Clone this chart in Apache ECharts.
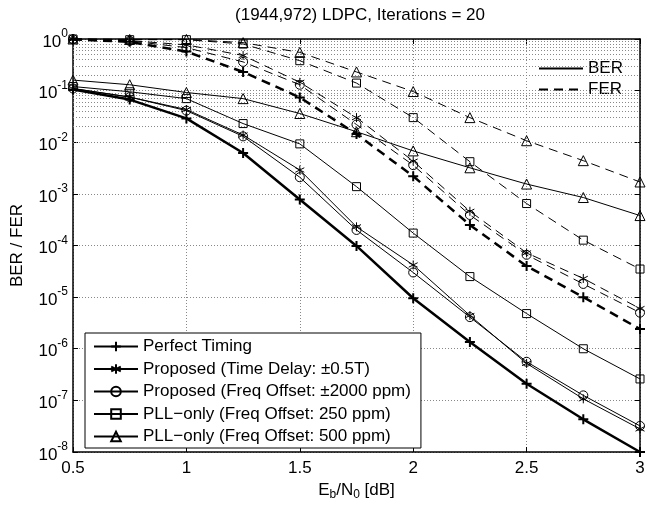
<!DOCTYPE html>
<html><head><meta charset="utf-8">
<script src="https://cdn.jsdelivr.net/npm/echarts@6/dist/echarts.min.js"></script>
<style>html,body{margin:0;padding:0;background:#fff}#c{width:653px;height:506px}</style>
</head><body><div id="c"></div>
<script>
const ebno = [0.5, 0.75, 1.0, 1.25, 1.5, 1.75, 2.0, 2.25, 2.5, 2.75, 3.0];

const perfectBER = [0.105, 0.067, 0.029, 0.0062, 7.8e-4, 9.8e-5, 9.5e-6, 1.35e-6, 2.1e-7, 4.3e-8, 1.0e-8];
const delayBER   = [0.11, 0.075, 0.043, 0.0138, 2.9e-3, 2.3e-4, 4.2e-5, 4.4e-6, 5.2e-7, 1.07e-7, 2.8e-8];
const freqBER    = [0.11, 0.075, 0.041, 0.013, 2.1e-3, 2.0e-4, 3.0e-5, 4.1e-6, 5.6e-7, 1.25e-7, 3.2e-8];
const pll250BER  = [0.12, 0.095, 0.07, 0.023, 9.3e-3, 1.38e-3, 1.74e-4, 2.5e-5, 4.8e-6, 1.0e-6, 2.6e-7];
const pll500BER  = [0.16, 0.13, 0.092, 0.07, 0.036, 0.016, 6.8e-3, 3.2e-3, 1.55e-3, 8.5e-4, 3.8e-4];

const perfectFER = [0.98, 0.88, 0.57, 0.23, 0.074, 0.0144, 2.2e-3, 2.5e-4, 4.0e-5, 1.0e-5, 2.4e-6];
const delayFER   = [0.99, 0.93, 0.77, 0.48, 0.145, 0.030, 4.3e-3, 4.6e-4, 7.2e-5, 2.3e-5, 6.0e-6];
const freqFER    = [0.99, 0.92, 0.68, 0.36, 0.13, 0.022, 3.6e-3, 3.9e-4, 6.6e-5, 1.8e-5, 5.0e-6];
const pll250FER  = [1.0, 0.97, 0.97, 0.80, 0.38, 0.14, 0.030, 4.2e-3, 6.5e-4, 1.27e-4, 3.5e-5];
const pll500FER  = [1.0, 0.98, 0.98, 0.85, 0.55, 0.23, 0.096, 0.030, 0.0107, 4.4e-3, 1.7e-3];

const schemeNames = [
  'Perfect Timing',
  'Proposed (Time Delay: \u00B10.5T)',
  'Proposed (Freq Offset: \u00B12000 ppm)',
  'PLL\u2212only (Freq Offset: 250 ppm)',
  'PLL\u2212only (Freq Offset: 500 ppm)'
];
const titleText = '(1944,972) LDPC, Iterations = 20';
const yAxisName = 'BER / FER';

const FONT = '"Liberation Sans", Arial, Helvetica, sans-serif';
const FS = 17;
const PLUS = 'path://M5,0L5,10M0,5L10,5';
const STAR = 'path://M5,0L5,10M0.67,2.5L9.33,7.5M0.67,7.5L9.33,2.5';
const symbols = [PLUS, STAR, 'circle', 'rect', 'triangle'];
const symSizes = [10, 9, 9, 8, 10];
const berSets = [perfectBER, delayBER, freqBER, pll250BER, pll500BER];
const ferSets = [perfectFER, delayFER, freqFER, pll250FER, pll500FER];

// minor log grid values (2..9 per decade)
const minorVals = [];
for (let d = -8; d < 0; d++) for (let k = 2; k <= 9; k++) minorVals.push(k * Math.pow(10, d));

function pairs(vals) { return ebno.map((x, i) => [x, vals[i]]); }

const series = [];
series.push({
  name: 'minorgrid', type: 'line', data: [], silent: true, z: 1,
  markLine: {
    silent: true, symbol: ['none', 'none'], label: {show: false},
    lineStyle: {color: '#888', type: [1, 2], width: 1},
    animation: false,
    data: minorVals.map(v => ({yAxis: v}))
  }
});
for (let i = 0; i < 5; i++) {
  const thick = i === 0;
  const lw = thick ? 2.5 : 1;
  const common = {
    type: 'line', symbol: symbols[i], symbolSize: symSizes[i], z: 5,
    itemStyle: {color: 'rgba(255,255,255,0)', borderColor: '#000', borderWidth: thick ? 2 : 1},
    emphasis: {disabled: true}, animation: false, clip: false
  };
  series.push(Object.assign({}, common, {
    name: schemeNames[i], data: pairs(berSets[i]),
    lineStyle: {color: '#000', width: lw, type: 'solid'}
  }));
  series.push(Object.assign({}, common, {
    name: schemeNames[i] + ' FER', data: pairs(ferSets[i]),
    lineStyle: {color: '#000', width: lw, type: [9, 6]}
  }));
}
series.push({name: 'BER', type: 'line', data: [], symbol: 'none', lineStyle: {color: '#000', width: 1.2, type: 'solid'}, itemStyle: {color: '#000'}});
series.push({name: 'FER', type: 'line', data: [], symbol: 'none', lineStyle: {color: '#000', width: 1.2, type: [9, 6]}, itemStyle: {color: '#000'}});

const axisLineStyle = {color: '#000', width: 1.5};
const gridLine = {show: true, lineStyle: {color: '#888', type: [1, 2], width: 1}};

const option = {
  backgroundColor: '#fff',
  animation: false,
  textStyle: {fontFamily: FONT, color: '#000'},
  title: {
    text: titleText, left: 355, top: 2, textAlign: 'center',
    textStyle: {fontFamily: FONT, fontSize: FS, fontWeight: 'normal', color: '#000'}
  },
  grid: {left: 73, right: 13, top: 39, bottom: 50, containLabel: false},
  legend: [{
    data: schemeNames, orient: 'vertical', left: 85, top: 333,
    itemWidth: 44, itemHeight: 12, itemGap: 5.5,
    padding: [5, 10, 3, 8],
    backgroundColor: '#fff', borderColor: '#000', borderWidth: 1, borderRadius: 0,
    textStyle: {fontFamily: FONT, fontSize: FS, color: '#000'},
    selectedMode: false
  }, {
    data: ['BER', 'FER'], orient: 'vertical', left: 533, top: 55,
    itemWidth: 44, itemHeight: 12, itemGap: 4,
    itemStyle: {color: 'rgba(0,0,0,0)', borderWidth: 0, opacity: 0},
    textStyle: {fontFamily: FONT, fontSize: FS, color: '#000'},
    selectedMode: false
  }],
  xAxis: [{
    type: 'value', min: 0.5, max: 3, interval: 0.5,
    name: 'E{sub|b}/N{sub|0} [dB]', nameLocation: 'middle', nameGap: 28,
    nameTextStyle: {fontFamily: FONT, fontSize: FS, color: '#000',
      rich: {sub: {fontSize: 12, padding: [9, 0, 0, 0], fontFamily: FONT, color: '#000'}}},
    axisLine: {show: true, onZero: false, lineStyle: axisLineStyle},
    axisTick: {show: true, inside: true, length: 5, lineStyle: {color: '#000'}},
    axisLabel: {fontFamily: FONT, fontSize: FS, color: '#000', margin: 8},
    splitLine: gridLine
  }, {
    type: 'value', min: 0.5, max: 3, interval: 0.5, position: 'top',
    axisLine: {show: true, onZero: false, lineStyle: axisLineStyle},
    axisTick: {show: true, inside: true, length: 5, lineStyle: {color: '#000'}},
    axisLabel: {show: false}, splitLine: {show: false}
  }],
  yAxis: [{
    type: 'log', logBase: 10, min: 1e-8, max: 1, splitNumber: 8,
    name: yAxisName, nameLocation: 'middle', nameGap: 47,
    nameTextStyle: {fontFamily: FONT, fontSize: FS, color: '#000'},
    axisLine: {show: true, onZero: false, lineStyle: axisLineStyle},
    axisTick: {show: true, inside: true, length: 5, lineStyle: {color: '#000'}},
    axisLabel: {
      fontFamily: FONT, color: '#000', margin: 5,
      formatter: v => '{b|10}{s|' + Math.round(Math.log10(v)) + '}',
      rich: {
        b: {fontSize: FS, fontFamily: FONT, color: '#000', padding: [6, 0, 0, 0]},
        s: {fontSize: 12, fontFamily: FONT, color: '#000', padding: [0, 0, 10, 0]}
      }
    },
    splitLine: gridLine
  }, {
    type: 'log', logBase: 10, min: 1e-8, max: 1, splitNumber: 8, position: 'right',
    axisLine: {show: true, onZero: false, lineStyle: axisLineStyle},
    axisTick: {show: true, inside: true, length: 5, lineStyle: {color: '#000'}},
    axisLabel: {show: false}, splitLine: {show: false}
  }],
  series: series
};
const chart = echarts.init(document.getElementById('c'), null, {renderer: 'canvas'});
chart.setOption(option);
</script>
</body></html>
